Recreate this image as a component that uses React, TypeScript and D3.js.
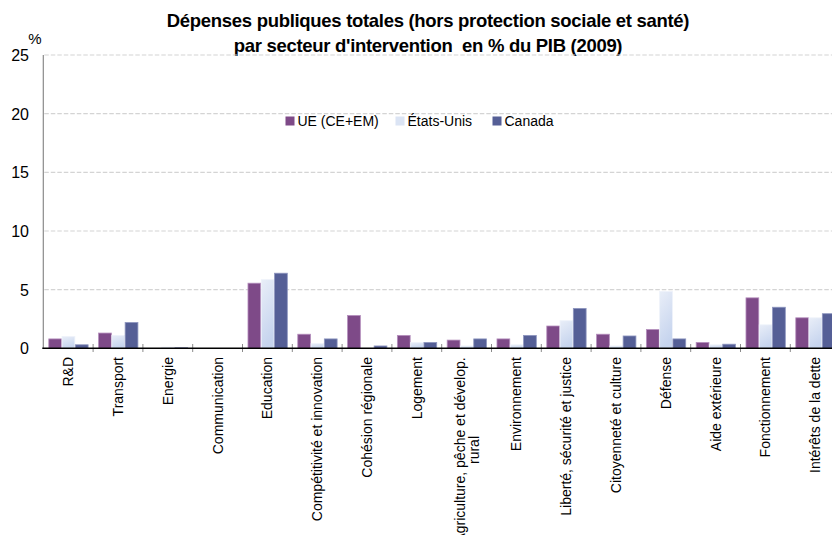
import React from "react";
import * as d3 from "d3";

// Spending sectors (the "|" marks a forced line break in the label)
const categories = [
  "R&D",
  "Transport",
  "Energie",
  "Communication",
  "Education",
  "Compétitivité et innovation",
  "Cohésion régionale",
  "Logement",
  "Agriculture, pêche et dévelop.|rural",
  "Environnement",
  "Liberté, sécurité et justice",
  "Citoyenneté et culture",
  "Défense",
  "Aide extérieure",
  "Fonctionnement",
  "Intérêts de la dette",
];

const seriesNames = ["UE (CE+EM)", "États-Unis", "Canada"];

const ueValues = [0.8, 1.3, 0, 0, 5.55, 1.2, 2.8, 1.1, 0.7, 0.8, 1.9, 1.2, 1.6, 0.5, 4.3, 2.6];
const usValues = [1.0, 1.1, 0.1, 0, 5.85, 0.4, 0, 0.5, 0.2, 0.3, 2.35, 0.2, 4.85, 0.3, 2.0, 2.6];
const caValues = [0.3, 2.2, 0.05, 0, 6.4, 0.8, 0.2, 0.5, 0.8, 1.1, 3.4, 1.05, 0.8, 0.35, 3.5, 2.95];

const yTicks = [0, 5, 10, 15, 20, 25];

const W = 832;
const H = 535;
const left = 43.3;
const step = 49.8;
const baseY = 348.3;
const topY = 55;

export default function App() {
  // 17 band slots; the last one runs past the right edge of the drawing
  const nSlots = 17;
  const x = d3
    .scaleBand<string>()
    .domain(d3.range(nSlots).map(String))
    .range([left, left + step * nSlots])
    .paddingInner(0.2)
    .paddingOuter(0.1);
  const xs = d3.scaleBand<number>().domain([0, 1, 2]).range([0, x.bandwidth()]);
  const y = d3.scaleLinear().domain([0, 25]).range([baseY, topY]);

  const series = [ueValues, usValues, caValues];
  const fills = ["#7e4a88", "url(#lightGrad)", "#555f96"];
  const strokes = ["#b58fbd", "#eef2fa", "#8e96bf"];
  const legendFills = ["#7e4a88", "#dbe4f4", "#555f96"];
  const legendX = [285.5, 395.5, 492.5];

  const font = "'Liberation Sans', Arial, Helvetica, sans-serif";

  return (
    <svg
      width={W}
      height={H}
      style={{ position: "absolute", left: 0, top: 0, background: "#fff" }}
      fontFamily={font}
    >
      <defs>
        <linearGradient id="lightGrad" x1="0" y1="0" x2="0.3" y2="1">
          <stop offset="0%" stopColor="#e9eef8" />
          <stop offset="100%" stopColor="#c6d4ee" />
        </linearGradient>
      </defs>

      {/* title */}
      <text x={428} y={27} textAnchor="middle" fontSize={18.5} fontWeight="bold" letterSpacing={-0.3}>
        Dépenses publiques totales (hors protection sociale et santé)
      </text>
      <text x={428} y={52} textAnchor="middle" fontSize={18.5} fontWeight="bold" letterSpacing={-0.3}>
        par secteur d'intervention{"\u00a0\u00a0"}en % du PIB (2009)
      </text>

      {/* gridlines */}
      {yTicks
        .filter((t) => t > 0)
        .map((t) => (
          <line
            key={"g" + t}
            x1={left + 1}
            x2={W}
            y1={y(t)}
            y2={y(t)}
            stroke="#d4d4d4"
            strokeWidth={1.2}
            strokeDasharray="4.5,2"
          />
        ))}

      {/* y tick labels */}
      {yTicks.map((t) => (
        <text key={"t" + t} x={29} y={y(t) + 6} textAnchor="end" fontSize={16} fill="#000">
          {t}
        </text>
      ))}
      <text x={35} y={44} textAnchor="middle" fontSize={15}>
        %
      </text>

      {/* bars */}
      {categories.map((c, i) =>
        series.map((vals, s) => {
          const v = vals[i];
          if (v <= 0) return null;
          const bx = (x(String(i)) as number) + (xs(s) as number);
          const by = y(v);
          return (
            <rect
              key={c + s}
              x={bx + 0.5}
              y={by}
              width={xs.bandwidth() - 0.5}
              height={baseY - by}
              fill={fills[s]}
              stroke={strokes[s]}
              strokeWidth={0.8}
            />
          );
        })
      )}

      {/* y axis */}
      <line x1={left} x2={left} y1={topY} y2={baseY} stroke="#8a8a8a" strokeWidth={1.2} />

      {/* category tick marks */}
      {d3.range(1, nSlots).map((k) => (
        <line
          key={"k" + k}
          x1={left + k * step}
          x2={left + k * step}
          y1={344}
          y2={352}
          stroke="#8a8a8a"
          strokeWidth={1}
        />
      ))}

      {/* x axis */}
      <line x1={left - 1} x2={W} y1={baseY} y2={baseY} stroke="#000" strokeWidth={1.6} />

      {/* category labels */}
      {categories.map((c, i) => {
        const cx = (x(String(i)) as number) + x.bandwidth() / 2;
        const lines = c.split("|");
        if (lines.length === 1) {
          return (
            <text
              key={"l" + i}
              transform={`translate(${cx + 5},357) rotate(-90)`}
              textAnchor="end"
              fontSize={14}
            >
              {c}
            </text>
          );
        }
        return (
          <text
            key={"l" + i}
            transform={`translate(${cx},450) rotate(-90)`}
            textAnchor="middle"
            fontSize={14}
          >
            {lines.map((ln, j) => (
              <tspan key={j} x={0} y={j * 14.5 - 2}>
                {ln}
              </tspan>
            ))}
          </text>
        );
      })}

      {/* legend */}
      {seriesNames.map((n, s) => (
        <g key={"lg" + s}>
          <rect x={legendX[s]} y={116.5} width={9} height={9} fill={legendFills[s]} />
          <text x={legendX[s] + 12} y={125.5} fontSize={14}>
            {n}
          </text>
        </g>
      ))}
    </svg>
  );
}
